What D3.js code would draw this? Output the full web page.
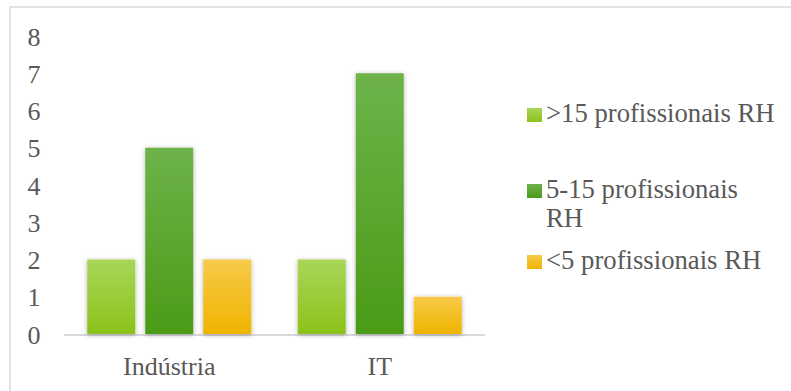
<!DOCTYPE html>
<html>
<head>
<meta charset="utf-8">
<script src="https://cdn.jsdelivr.net/npm/d3@7/dist/d3.min.js"></script>
<style>
  html, body { margin: 0; padding: 0; background: #fff; }
  svg { display: block; }
</style>
</head>
<body>
<svg id="chart" width="791" height="391"></svg>
<script>
const categories = ["Indústria", "IT"];
const seriesNames = [">15 profissionais RH", "5-15 profissionais RH", "<5 profissionais RH"];
const seriesValues = [
  [2, 2],   // >15 profissionais RH
  [5, 7],   // 5-15 profissionais RH
  [2, 1]    // <5 profissionais RH
];
const yTicks = [0, 1, 2, 3, 4, 5, 6, 7, 8];
const legendLines = [[">15 profissionais RH"], ["5-15 profissionais", "RH"], ["<5 profissionais RH"]];

const colorsTop = ["#a8d65a", "#6db34a", "#f7ca4a"];
const colorsBottom = ["#8cc219", "#4b9b17", "#f0b400"];
const FONT = "'Liberation Serif'";

const svg = d3.select("#chart");
const W = 791, H = 391;

// frame
svg.append("rect").attr("x", 10).attr("y", 7).attr("width", W).attr("height", H)
  .attr("fill", "#fff").attr("stroke", "#d9d9d9").attr("stroke-width", 1.5);

const defs = svg.append("defs");
seriesNames.forEach((s, i) => {
  const g = defs.append("linearGradient").attr("id", "grad" + i)
    .attr("x1", 0).attr("y1", 0).attr("x2", 0).attr("y2", 1);
  g.append("stop").attr("offset", "0%").attr("stop-color", colorsTop[i]);
  g.append("stop").attr("offset", "100%").attr("stop-color", colorsBottom[i]);
});
const f = defs.append("filter").attr("id", "shadow")
  .attr("x", "-30%").attr("y", "-10%").attr("width", "160%").attr("height", "130%");
f.append("feDropShadow").attr("dx", 0).attr("dy", 1).attr("stdDeviation", 2.5)
  .attr("flood-color", "#000").attr("flood-opacity", 0.3);

const y = d3.scaleLinear().domain([0, 8]).range([334, 36]);
const x0 = d3.scaleBand().domain(categories).range([64, 485]).padding(0);
const groupW = 164;
const x1 = d3.scaleBand().domain(seriesNames.map((d, i) => i))
  .range([(x0.bandwidth() - groupW) / 2, (x0.bandwidth() + groupW) / 2])
  .paddingInner(10 / 58).paddingOuter(0);

// axis line
svg.append("line").attr("x1", 64).attr("x2", 485).attr("y1", y(0) + 1).attr("y2", y(0) + 1)
  .attr("stroke", "#d9d9d9").attr("stroke-width", 2);

// y tick labels
svg.append("g").selectAll("text").data(yTicks).join("text")
  .attr("x", 34).attr("y", d => y(d) + 1)
  .attr("text-anchor", "middle").attr("dominant-baseline", "central")
  .attr("font-family", FONT).attr("fill", "#595959")
  .attr("font-size", 26).text(d => d);

// bars
const bars = svg.append("g");
seriesNames.forEach((s, i) => {
  bars.selectAll(".b" + i).data(categories).join("rect")
    .attr("x", (c) => x0(c) + x1(i))
    .attr("y", (c, j) => y(seriesValues[i][j]))
    .attr("width", x1.bandwidth())
    .attr("height", (c, j) => y(0) - y(seriesValues[i][j]))
    .attr("fill", "url(#grad" + i + ")")
    .attr("filter", "url(#shadow)");
});

// category labels
svg.append("g").selectAll("text").data(categories).join("text")
  .attr("x", c => x0(c) + x0.bandwidth() / 2).attr("y", 375)
  .attr("text-anchor", "middle").attr("font-size", 26)
  .attr("font-family", FONT).attr("fill", "#595959").text(c => c);

// legend
const legendY = [122, 198, 269];
const lg = svg.append("g");
legendLines.forEach((lines, i) => {
  lg.append("rect").attr("x", 527).attr("y", legendY[i] - 14).attr("width", 15).attr("height", 14)
    .attr("fill", "url(#grad" + i + ")");
  const t = lg.append("text").attr("x", 546).attr("y", legendY[i]).attr("font-size", 26.7)
    .attr("font-family", FONT).attr("fill", "#595959");
  lines.forEach((ln, k) => {
    t.append("tspan").attr("x", 546).attr("y", legendY[i] + k * 29).text(ln);
  });
});
</script>
</body>
</html>
